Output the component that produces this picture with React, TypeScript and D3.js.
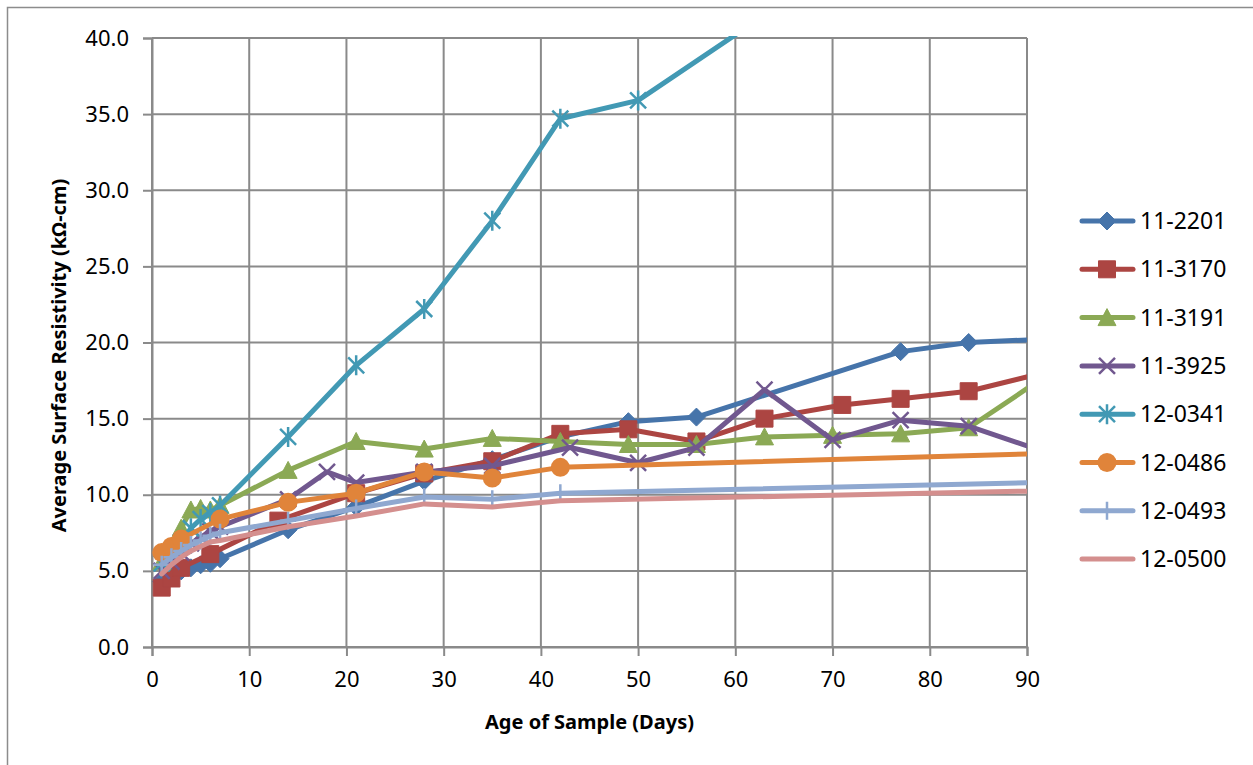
import React, { useRef, useEffect } from 'react';
import * as d3 from 'd3';

// Series names and colours
const seriesNames = ['11-2201', '11-3170', '11-3191', '11-3925', '12-0341', '12-0486', '12-0493', '12-0500'];
const seriesColors = ['#4674AA', '#AC4542', '#8BA955', '#71588F', '#4299B4', '#E0843A', '#8FA8D0', '#D48F8E'];
const seriesMarkers = ['diamond', 'square', 'triangle', 'x', 'asterisk', 'circle', 'plus', 'none'];

// Age (days) and average surface resistivity (kOhm-cm) per series
const days2201 = [1, 2, 3, 4, 5, 6, 7, 14, 21, 28, 35, 42, 49, 56, 77, 84, 91];
const vals2201 = [4.3, 4.7, 5.0, 5.2, 5.4, 5.5, 5.8, 7.7, 9.2, 10.9, 12.3, 13.8, 14.8, 15.1, 19.4, 20.0, 20.2];
const days3170 = [1, 2, 3, 6, 13, 21, 28, 35, 42, 49, 56, 63, 71, 77, 84, 91];
const vals3170 = [3.9, 4.5, 5.2, 6.1, 8.3, 10.1, 11.4, 12.2, 14.0, 14.3, 13.5, 15.0, 15.9, 16.3, 16.8, 17.9];
const days3191 = [1, 2, 3, 4, 5, 6, 7, 14, 21, 28, 35, 42, 49, 56, 63, 70, 77, 84, 91];
const vals3191 = [5.6, 6.6, 7.8, 9.0, 9.1, 9.0, 9.3, 11.6, 13.5, 13.0, 13.7, 13.5, 13.3, 13.3, 13.8, 13.9, 14.0, 14.4, 17.4];
const days3925 = [1, 2, 3, 4, 5, 6, 7, 14, 18, 21, 28, 35, 43, 50, 56, 63, 70, 77, 84, 91];
const vals3925 = [5.0, 5.6, 6.2, 6.8, 7.2, 7.6, 7.9, 9.7, 11.5, 10.8, 11.5, 11.9, 13.1, 12.1, 13.1, 16.9, 13.6, 14.9, 14.5, 13.0];
const days0341 = [1, 2, 3, 4, 5, 6, 7, 14, 21, 28, 35, 42, 50, 63];
const vals0341 = [5.5, 6.2, 6.9, 7.8, 8.4, 8.8, 9.3, 13.8, 18.5, 22.2, 28.0, 34.7, 35.9, 41.5];
const days0486 = [1, 2, 3, 7, 14, 21, 28, 35, 42, 91];
const vals0486 = [6.2, 6.6, 7.1, 8.4, 9.5, 10.1, 11.5, 11.1, 11.8, 12.7];
const days0493 = [1, 2, 3, 4, 5, 6, 7, 14, 21, 28, 35, 42, 91];
const vals0493 = [5.4, 5.9, 6.3, 6.7, 7.0, 7.3, 7.5, 8.3, 9.1, 9.85, 9.7, 10.1, 10.8];
const days0500 = [1, 2, 3, 4, 5, 6, 7, 14, 21, 28, 35, 42, 91];
const vals0500 = [4.8, 5.4, 5.9, 6.3, 6.6, 6.9, 7.0, 7.9, 8.6, 9.4, 9.2, 9.6, 10.25];

const xTicks = [0, 10, 20, 30, 40, 50, 60, 70, 80, 90];
const yTicks = [0, 5, 10, 15, 20, 25, 30, 35, 40];

const allDays = [days2201, days3170, days3191, days3925, days0341, days0486, days0493, days0500];
const allVals = [vals2201, vals3170, vals3191, vals3925, vals0341, vals0486, vals0493, vals0500];

const W = 1253;
const H = 765;
const FONT = '"Noto Sans", "Open Sans", sans-serif';

// marker path centred at 0,0
function markerPath(kind: string): string {
  switch (kind) {
    case 'diamond': return 'M0,-9L9,0L0,9L-9,0Z';
    case 'square': return 'M-8.5,-8.5H8.5V8.5H-8.5Z';
    case 'triangle': return 'M0,-9L9,8L-9,8Z';
    case 'x': return 'M-8,-8L8,8M-8,8L8,-8';
    case 'asterisk': return 'M-8,-8L8,8M-8,8L8,-8M0,-10V10';
    case 'plus': return 'M0,-9V9M-8,0H8';
    default: return '';
  }
}

const App = () => {
  const ref = useRef<SVGSVGElement>(null);

  useEffect(() => {
    const svg = d3.select(ref.current);
    svg.selectAll('*').remove();

    const left = 152, right = 1027, top = 38, bottom = 647;

    const x = d3.scaleLinear().domain([0, 90]).range([left, right]);
    const y = d3.scaleLinear().domain([0, 40]).range([bottom, top]);

    svg.append('rect').attr('width', W).attr('height', H).attr('fill', '#fff');
    // outer chart border
    svg.append('rect')
      .attr('x', 7.5).attr('y', 7.5)
      .attr('width', W + 20).attr('height', H + 20)
      .attr('fill', 'none').attr('stroke', '#8c8c8c').attr('stroke-width', 1.5);

    svg.append('defs').append('clipPath').attr('id', 'plotclip')
      .append('rect').attr('x', left).attr('y', top - 2)
      .attr('width', right - left).attr('height', bottom - top + 2);

    // gridlines
    const grid = svg.append('g').attr('stroke', '#8a8a8a').attr('stroke-width', 2);
    yTicks.forEach(t => {
      grid.append('line').attr('x1', left).attr('x2', right).attr('y1', y(t)).attr('y2', y(t));
    });
    xTicks.forEach(t => {
      grid.append('line').attr('x1', x(t)).attr('x2', x(t)).attr('y1', top).attr('y2', bottom);
    });

    // axes
    const yAxis = d3.axisLeft(y).tickValues(yTicks).tickSize(9).tickPadding(14)
      .tickFormat(d => d3.format('.1f')(d as number));
    const gy = svg.append('g').attr('transform', `translate(${left},0)`).call(yAxis);
    const xAxis = d3.axisBottom(x).tickValues(xTicks).tickSize(9).tickPadding(15);
    const gx = svg.append('g').attr('transform', `translate(0,${bottom})`).call(xAxis);
    [gx, gy].forEach(g => {
      g.select('.domain').attr('stroke', '#8a8a8a').attr('stroke-width', 2);
      g.selectAll('.tick line').attr('stroke', '#8a8a8a').attr('stroke-width', 2);
      g.selectAll('.tick text').attr('fill', '#000').style('font-family', FONT).style('font-size', '22px');
    });

    // axis titles
    svg.append('text')
      .attr('x', (left + right) / 2).attr('y', 729)
      .attr('text-anchor', 'middle')
      .style('font-family', FONT).style('font-size', '20px').style('font-weight', 'bold')
      .text('Age of Sample (Days)');
    svg.append('text')
      .attr('transform', `translate(66,${(top + bottom) / 2 + 13}) rotate(-90)`)
      .attr('text-anchor', 'middle')
      .style('font-family', FONT).style('font-size', '20px').style('font-weight', 'bold')
      .text('Average Surface Resistivity (kΩ-cm)');

    // series
    const plot = svg.append('g').attr('clip-path', 'url(#plotclip)');
    const line = d3.line<[number, number]>().x(d => x(d[0])).y(d => y(d[1]));

    seriesNames.forEach((name, i) => {
      const pts: [number, number][] = allDays[i].map((d, j) => [d, allVals[i][j]]);
      const color = seriesColors[i];
      const g = plot.append('g');
      g.append('path')
        .attr('d', line(pts))
        .attr('fill', 'none')
        .attr('stroke', color)
        .attr('stroke-width', 5)
        .attr('stroke-linejoin', 'round')
        .attr('stroke-linecap', 'round');
      const kind = seriesMarkers[i];
      if (kind === 'none') return;
      pts.forEach(p => {
        if (kind === 'circle') {
          g.append('circle').attr('cx', x(p[0])).attr('cy', y(p[1])).attr('r', 9.5).attr('fill', color);
        } else {
          const stroked = kind === 'x' || kind === 'asterisk' || kind === 'plus';
          g.append('path')
            .attr('transform', `translate(${x(p[0])},${y(p[1])})`)
            .attr('d', markerPath(kind))
            .attr('fill', stroked ? 'none' : color)
            .attr('stroke', color)
            .attr('stroke-width', stroked ? 2.5 : 1);
        }
      });
    });

    // legend
    const legend = svg.append('g');
    seriesNames.forEach((name, i) => {
      const cy = 221 + i * 48.3;
      const color = seriesColors[i];
      const row = legend.append('g');
      row.append('line').attr('x1', 1082).attr('x2', 1133).attr('y1', cy).attr('y2', cy)
        .attr('stroke', color).attr('stroke-width', 5).attr('stroke-linecap', 'round');
      const kind = seriesMarkers[i];
      if (kind === 'circle') {
        row.append('circle').attr('cx', 1107).attr('cy', cy).attr('r', 9.5).attr('fill', color);
      } else if (kind !== 'none') {
        const stroked = kind === 'x' || kind === 'asterisk' || kind === 'plus';
        row.append('path')
          .attr('transform', `translate(1107,${cy})`)
          .attr('d', markerPath(kind))
          .attr('fill', stroked ? 'none' : color)
          .attr('stroke', color)
          .attr('stroke-width', stroked ? 2.5 : 1);
      }
      row.append('text').attr('x', 1140).attr('y', cy).attr('dy', '0.35em')
        .style('font-family', FONT).style('font-size', '23px')
        .text(name);
    });
  }, []);

  return (
    <svg ref={ref} width={W} height={H}
      style={{ position: 'absolute', left: 0, top: 0, display: 'block' }} />
  );
};

export default App;
